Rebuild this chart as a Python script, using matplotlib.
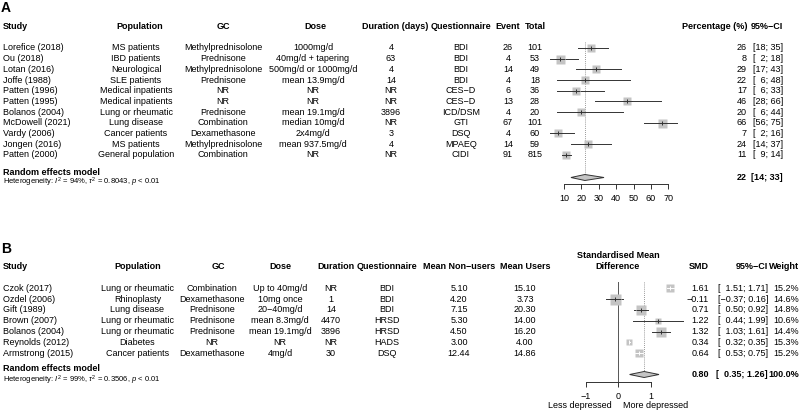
import matplotlib.pyplot as plt
from matplotlib.patches import Polygon

plt.rcParams['font.family'] = ['Liberation Sans', 'DejaVu Sans']
plt.rcParams['mathtext.fontset'] = 'custom'
plt.rcParams['mathtext.rm'] = 'Liberation Sans'
plt.rcParams['mathtext.it'] = 'Liberation Sans:italic'
plt.rcParams['mathtext.bf'] = 'Liberation Sans:bold'

# ---- panel A data ----
studies_a = ["Lorefice (2018)", "Ou (2018)", "Lotan (2016)", "Joffe (1988)", "Patten (1996)",
             "Patten (1995)", "Bolanos (2004)", "McDowell (2021)", "Vardy (2006)", "Jongen (2016)",
             "Patten (2000)"]
population_a = ["MS patients", "IBD patients", "Neurological", "SLE patients", "Medical inpatients",
                "Medical inpatients", "Lung or rheumatic", "Lung disease", "Cancer patients",
                "MS patients", "General population"]
gc_a = ["Methylprednisolone", "Prednisone", "Methylprednisolone", "Prednisone", "NR", "NR",
        "Prednisone", "Combination", "Dexamethasone", "Methylprednisolone", "Combination"]
dose_a = ["1000mg/d", "40mg/d + tapering", "500mg/d or 1000mg/d", "mean 13.9mg/d", "NR", "NR",
          "mean 19.1mg/d", "median 10mg/d", "2x4mg/d", "mean 937.5mg/d", "NR"]
duration_a = ["4", "63", "4", "14", "NR", "NR", "3896", "NR", "3", "4", "NR"]
quest_a = ["BDI", "BDI", "BDI", "BDI", "CES\u2212D", "CES\u2212D", "ICD/DSM", "GTI", "DSQ", "MPAEQ", "CIDI"]
event_a = [26, 4, 14, 4, 6, 13, 4, 67, 4, 14, 91]
total_a = [101, 53, 49, 18, 36, 28, 20, 101, 60, 59, 815]
lo_a = [18, 2, 17, 6, 6, 28, 6, 56, 2, 14, 9]
hi_a = [35, 18, 43, 48, 33, 66, 44, 75, 16, 37, 14]
pooled_a = (22, 14, 33)
het_a = (94, 0.8043)

# ---- panel B data ----
studies_b = ["Czok (2017)", "Ozdel (2006)", "Gift (1989)", "Brown (2007)", "Bolanos (2004)",
             "Reynolds (2012)", "Armstrong (2015)"]
population_b = ["Lung or rheumatic", "Rhinoplasty", "Lung disease", "Lung or rheumatic",
                "Lung or rheumatic", "Diabetes", "Cancer patients"]
gc_b = ["Combination", "Dexamethasone", "Prednisone", "Prednisone", "Prednisone", "NR", "Dexamethasone"]
dose_b = ["Up to 40mg/d", "10mg once", "20\u221240mg/d", "mean 8.3mg/d", "mean 19.1mg/d", "NR", "4mg/d"]
duration_b = ["NR", "1", "14", "4470", "3896", "NR", "30"]
quest_b = ["BDI", "BDI", "BDI", "HRSD", "HRSD", "HADS", "DSQ"]
mean_non = [5.10, 4.20, 7.15, 5.30, 4.50, 3.00, 12.44]
mean_users = [15.10, 3.73, 20.30, 14.00, 16.20, 4.00, 14.86]
smd_b = [1.61, -0.11, 0.71, 1.22, 1.32, 0.34, 0.64]
lo_b = [1.51, -0.37, 0.50, 0.44, 1.03, 0.32, 0.53]
hi_b = [1.71, 0.16, 0.92, 1.99, 1.61, 0.35, 0.75]
weight_b = [15.2, 14.6, 14.8, 10.6, 14.4, 15.3, 15.2]
pooled_b = (0.80, 0.35, 1.26)
het_b = (99, 0.3506)

# box sides (px) as drawn in the reference
box_a = [8.5, 9, 8.5, 8, 7.7, 8.3, 8, 9, 8, 8.3, 8.3]
box_b = [7.3, 11, 9.3, 6.3, 10, 6.7, 7.7]

W, H = 800, 413
FS = 6.5
SQ = '#c4c4c4'
LN = '#333333'

fig = plt.figure(figsize=(8, 4.13), dpi=100)
tx = fig.add_axes([0, 0, 1, 1])
tx.set_xlim(0, W)
tx.set_ylim(H, 0)
tx.axis('off')


def put(x, y, s, ha='center', bold=False, size=FS):
    tx.text(x, y, s, ha=ha, va='center', fontsize=size,
            fontweight='bold' if bold else 'normal')


def minus(s):
    return s.replace('-', '\u2212')


def forest_axes(l, r, top, bot, x0, scale):
    ax = fig.add_axes([l / W, 1 - bot / H, (r - l) / W, (bot - top) / H])
    ax.set_xlim((l - x0) / scale, (r - x0) / scale)
    ax.set_ylim(bot, top)
    ax.patch.set_alpha(0)
    for s in ['top', 'right', 'left']:
        ax.spines[s].set_visible(False)
    ax.spines['bottom'].set_color(LN)
    ax.spines['bottom'].set_linewidth(0.7)
    ax.set_yticks([])
    ax.tick_params(axis='x', length=3.5, width=0.7, color=LN, labelsize=FS, pad=4)
    return ax, scale


def draw_study(ax, scale, y, est, lo, hi, box):
    half = box / 2 / scale
    ax.plot([lo, hi], [y, y], color=LN, lw=0.7, zorder=2)
    ax.plot(est, y, marker='s', ms=box * 0.72, mfc=SQ, mec='none', zorder=3)
    inside = lo > est - half and hi < est + half
    col = 'white' if inside else LN
    ax.plot([max(lo, est - half), min(hi, est + half)], [y, y], color=col, lw=0.7, zorder=4)
    ax.plot(est, y, marker='|', ms=2.4, mew=0.7, color=col, zorder=5)


def diamond(ax, y, est, lo, hi):
    ax.add_patch(Polygon([(lo, y), (est, y - 3), (hi, y), (est, y + 3)], closed=True,
                         fc=SQ, ec=LN, lw=0.7, zorder=4))


# ================= Panel A =================
put(1, 8, 'A', ha='left', bold=True, size=10)
hy = 26.5
put(3, hy, 'Study', ha='left', bold=True)
put(140, hy, 'Population', bold=True)
put(223, hy, 'GC', bold=True)
put(315, hy, 'Dose', bold=True)
put(395, hy, 'Duration (days)', bold=True)
put(461, hy, 'Questionnaire', bold=True)
put(508, hy, 'Event', bold=True)
put(535, hy, 'Total', bold=True)
put(747, hy, 'Percentage (%)', ha='right', bold=True)
put(783, hy, '95%\u2212CI', ha='right', bold=True)

rows_a = [48 + 10.68 * i for i in range(len(studies_a))]
axa, sca = forest_axes(530, 690, 42, 184, 546.6, 1.74)
for i, y in enumerate(rows_a):
    put(3, y, studies_a[i], ha='left')
    put(136, y, population_a[i])
    put(223, y, gc_a[i])
    put(313, y, dose_a[i])
    put(391, y, duration_a[i])
    put(461, y, quest_a[i])
    put(508, y, str(event_a[i]))
    put(535, y, str(total_a[i]))
    p = event_a[i] / total_a[i] * 100
    put(747, y, f'{p:.0f}', ha='right')
    put(783, y, f'[{lo_a[i]:2d}; {hi_a[i]:2d}]'.replace('[ ', '[  '), ha='right')
    draw_study(axa, sca, y, p, lo_a[i], hi_a[i], box_a[i])

ya = 177.5
put(3, 172.5, 'Random effects model', ha='left', bold=True)
put(3, 182.5, 'Heterogeneity: $I^2$ = %d%%, $\\tau^2$ = %.4f, $p$ < 0.01' % het_a, ha='left', size=5.5)
put(747, ya, f'{pooled_a[0]}', ha='right', bold=True)
put(783, ya, f'[{pooled_a[1]}; {pooled_a[2]}]', ha='right', bold=True)
diamond(axa, ya, *pooled_a)
axa.vlines(pooled_a[0], 42, ya - 3, color='#777777', lw=0.6, linestyles=(0, (1, 1.5)), zorder=1)
axa.spines['bottom'].set_bounds(10, 70)
axa.set_xticks(range(10, 80, 10))

# ================= Panel B =================
put(1, 249, 'B', ha='left', bold=True, size=10)
hy = 266.7
put(3, hy, 'Study', ha='left', bold=True)
put(137.5, hy, 'Population', bold=True)
put(218, hy, 'GC', bold=True)
put(280, hy, 'Dose', bold=True)
put(336, hy, 'Duration', bold=True)
put(387, hy, 'Questionnaire', bold=True)
put(459, hy, 'Mean Non\u2212users', bold=True)
put(525, hy, 'Mean Users', bold=True)
put(618, 255, 'Standardised Mean', bold=True)
put(618, hy, 'Difference', bold=True)
put(709, hy, 'SMD', ha='right', bold=True)
put(768, hy, '95%\u2212CI', ha='right', bold=True)
put(799, hy, 'Weight', ha='right', bold=True)

rows_b = [288.3 + 10.8 * i for i in range(len(studies_b))]
axb, scb = forest_axes(570, 700, 282, 382, 618.3, 32.3)
for i, y in enumerate(rows_b):
    put(3, y, studies_b[i], ha='left')
    put(137.5, y, population_b[i])
    put(212, y, gc_b[i])
    put(280, y, dose_b[i])
    put(331, y, duration_b[i])
    put(387, y, quest_b[i])
    put(459, y, f'{mean_non[i]:.2f}')
    put(525, y, f'{mean_users[i]:.2f}')
    put(709, y, minus(f'{smd_b[i]:.2f}'), ha='right')
    ci = '[' + minus(f'{lo_b[i]:5.2f}').replace(' ', '  ') + '; ' + f'{hi_b[i]:.2f}' + ']'
    put(768, y, ci, ha='right')
    put(799, y, f'{weight_b[i]:.1f}%', ha='right')
    draw_study(axb, scb, y, smd_b[i], lo_b[i], hi_b[i], box_b[i])

yb = 374.5
put(3, 368.5, 'Random effects model', ha='left', bold=True)
put(3, 380, 'Heterogeneity: $I^2$ = %d%%, $\\tau^2$ = %.4f, $p$ < 0.01' % het_b, ha='left', size=5.5)
put(709, yb, f'{pooled_b[0]:.2f}', ha='right', bold=True)
put(768, yb, f'[  {pooled_b[1]:.2f}; {pooled_b[2]:.2f}]', ha='right', bold=True)
put(799, yb, '100.0%', ha='right', bold=True)
diamond(axb, yb, *pooled_b)
axb.vlines(pooled_b[0], 282, yb - 3, color='#777777', lw=0.6, linestyles=(0, (1, 1.5)), zorder=1)
axb.axvline(0, color='#555555', lw=0.7, zorder=1)
axb.spines['bottom'].set_bounds(-1, 1)
axb.set_xticks([-1, 0, 1])
axb.set_xticklabels(['\u22121', '0', '1'])
put(612, 406, 'Less depressed', ha='right')
put(623, 406, 'More depressed', ha='left')

fig.savefig('out.png', dpi=100)
